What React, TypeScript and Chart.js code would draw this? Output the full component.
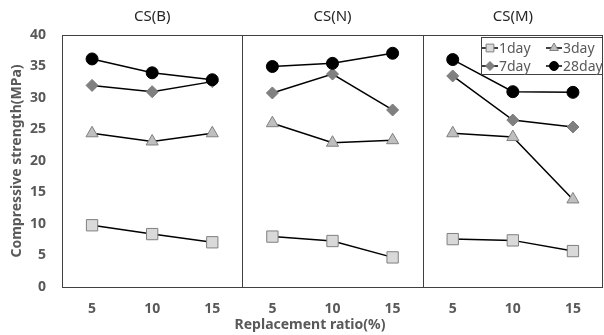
import React, { useEffect, useRef } from 'react';
import { Chart, registerables } from 'chart.js';

Chart.register(...registerables);

// ---- data ----
const groups = ['CS(B)', 'CS(N)', 'CS(M)'];
const ratios = ['5', '10', '15'];
const day1 = [9.8, 8.4, 7.1, 8.0, 7.3, 4.7, 7.6, 7.4, 5.7];
const day3 = [24.4, 23.1, 24.4, 26.0, 22.9, 23.3, 24.4, 23.8, 13.9];
const day7 = [32.0, 31.0, 32.6, 30.8, 33.8, 28.1, 33.5, 26.5, 25.4];
const day28 = [36.2, 34.0, 32.9, 35.0, 35.5, 37.1, 36.1, 31.0, 30.9];
const seriesNames = ['1day', '3day', '7day', '28day'];

const labels = groups.flatMap(() => ratios);

const FONT = "'Noto Sans', 'Noto Sans CJK KR', sans-serif";
const GRAY = '#595959';

const markerStyles = [
  { style: 'rect', radius: 8, bg: '#d9d9d9', border: '#808080' },
  { style: 'triangle', radius: 7, bg: '#bfbfbf', border: '#808080' },
  { style: 'rectRot', radius: 6, bg: '#808080', border: '#7a7a7a' },
  { style: 'circle', radius: 6, bg: '#000000', border: '#000000' },
];

function drawMarker(ctx: CanvasRenderingContext2D, kind: number, x: number, y: number, r: number) {
  const m = markerStyles[kind];
  ctx.save();
  ctx.fillStyle = m.bg;
  ctx.strokeStyle = m.border;
  ctx.lineWidth = 1;
  ctx.beginPath();
  if (m.style === 'rect') {
    const s = r * Math.SQRT1_2;
    ctx.rect(x - s, y - s, 2 * s, 2 * s);
  } else if (m.style === 'triangle') {
    ctx.moveTo(x, y - r);
    ctx.lineTo(x + r * 0.866, y + r * 0.5);
    ctx.lineTo(x - r * 0.866, y + r * 0.5);
    ctx.closePath();
  } else if (m.style === 'rectRot') {
    ctx.moveTo(x, y - r);
    ctx.lineTo(x + r, y);
    ctx.lineTo(x, y + r);
    ctx.lineTo(x - r, y);
    ctx.closePath();
  } else {
    ctx.arc(x, y, r, 0, Math.PI * 2);
  }
  ctx.fill();
  ctx.stroke();
  ctx.restore();
}

const framePlugin = {
  id: 'frame',
  beforeDatasetsDraw(chart: any) {
    const { ctx, chartArea } = chart;
    const xs = chart.scales.x;
    ctx.save();
    ctx.strokeStyle = '#404040';
    ctx.lineWidth = 1;
    ctx.strokeRect(
      Math.round(chartArea.left) + 0.5,
      Math.round(chartArea.top) + 0.5,
      Math.round(chartArea.right - chartArea.left) - 1,
      Math.round(chartArea.bottom - chartArea.top)
    );
    for (let g = 1; g < groups.length; g++) {
      const x0 = xs.getPixelForValue(g * 3 - 1);
      const x1 = xs.getPixelForValue(g * 3);
      const xm = Math.round((x0 + x1) / 2) + 0.5;
      ctx.beginPath();
      ctx.moveTo(xm, chartArea.top);
      ctx.lineTo(xm, chartArea.bottom);
      ctx.stroke();
    }
    ctx.restore();
  },
  afterDraw(chart: any) {
    const { ctx } = chart;
    const xs = chart.scales.x;
    ctx.save();
    // group titles
    ctx.fillStyle = '#262626';
    ctx.font = `15px ${FONT}`;
    ctx.textAlign = 'center';
    ctx.textBaseline = 'middle';
    groups.forEach((g, i) => {
      ctx.fillText(g, xs.getPixelForValue(i * 3 + 1), 17);
    });
    // x axis title
    ctx.fillStyle = GRAY;
    ctx.font = `bold 14px ${FONT}`;
    ctx.fillText('Replacement ratio(%)', 310, 325);
    // legend
    const lx = 481, ly = 37, lw = 122, lh = 38;
    ctx.fillStyle = '#ffffff';
    ctx.fillRect(lx, ly, lw, lh);
    ctx.strokeStyle = '#404040';
    ctx.lineWidth = 1;
    ctx.strokeRect(lx + 0.5, ly + 0.5, lw - 1, lh - 1);
    const cols = [490, 554];
    const rows = [48, 66];
    ctx.font = `14px ${FONT}`;
    ctx.textAlign = 'left';
    seriesNames.forEach((name, i) => {
      const cx = cols[i % 2];
      const cy = rows[Math.floor(i / 2)];
      ctx.strokeStyle = '#000';
      ctx.lineWidth = 1.5;
      ctx.beginPath();
      ctx.moveTo(cx - 8, cy);
      ctx.lineTo(cx + 8, cy);
      ctx.stroke();
      const r = [5.5, 5, 4.5, 4.5][i];
      drawMarker(ctx, i, cx, cy, r);
      ctx.fillStyle = GRAY;
      ctx.fillText(name, cx + 9, cy + 1);
    });
    ctx.restore();
  },
};

export default function App() {
  const ref = useRef<HTMLCanvasElement>(null);
  useEffect(() => {
    if (!ref.current) return;
    const series = [day1, day3, day7, day28];
    const chart = new Chart(ref.current, {
      type: 'line',
      data: {
        labels,
        datasets: series.map((d, i) => ({
          label: seriesNames[i],
          data: d,
          borderColor: '#000',
          borderWidth: 1.5,
          pointStyle: markerStyles[i].style as any,
          pointRadius: markerStyles[i].radius,
          pointBackgroundColor: markerStyles[i].bg,
          pointBorderColor: markerStyles[i].border,
          pointBorderWidth: 1,
          tension: 0,
          order: 3 - i,
          segment: {
            borderColor: (c: any) => (c.p0DataIndex % 3 === 2 ? 'rgba(0,0,0,0)' : '#000'),
          },
        })),
      },
      options: {
        responsive: false,
        animation: false,
        layout: { autoPadding: false, padding: { top: 35, right: 1, left: 0, bottom: 0 } },
        plugins: { legend: { display: false }, tooltip: { enabled: false } },
        scales: {
          x: {
            type: 'category',
            offset: true,
            grid: { display: false, drawTicks: false },
            border: { display: false },
            ticks: {
              color: GRAY,
              font: { family: FONT, size: 14, weight: 'bold' },
              padding: 14,
              maxRotation: 0,
              autoSkip: false,
            },
            afterFit: (s: any) => {
              s.height = 48;
            },
          },
          y: {
            min: 0,
            max: 40,
            grid: { display: false, drawTicks: false },
            border: { display: false },
            ticks: {
              stepSize: 5,
              color: GRAY,
              font: { family: FONT, size: 14, weight: 'bold' },
              padding: 16,
            },
            title: {
              display: true,
              text: 'Compressive strength(MPa)',
              color: GRAY,
              font: { family: FONT, size: 14, weight: 'bold' },
              padding: { top: 8.6, bottom: 0 },
            },
            afterFit: (s: any) => {
              s.width = 62;
            },
          },
        },
      },
      plugins: [framePlugin],
    });
    return () => chart.destroy();
  }, []);
  return (
    <div style={{ position: 'fixed', left: 0, top: 0, width: 604, height: 335, background: '#fff' }}>
      <canvas ref={ref} width={604} height={335} />
    </div>
  );
}
